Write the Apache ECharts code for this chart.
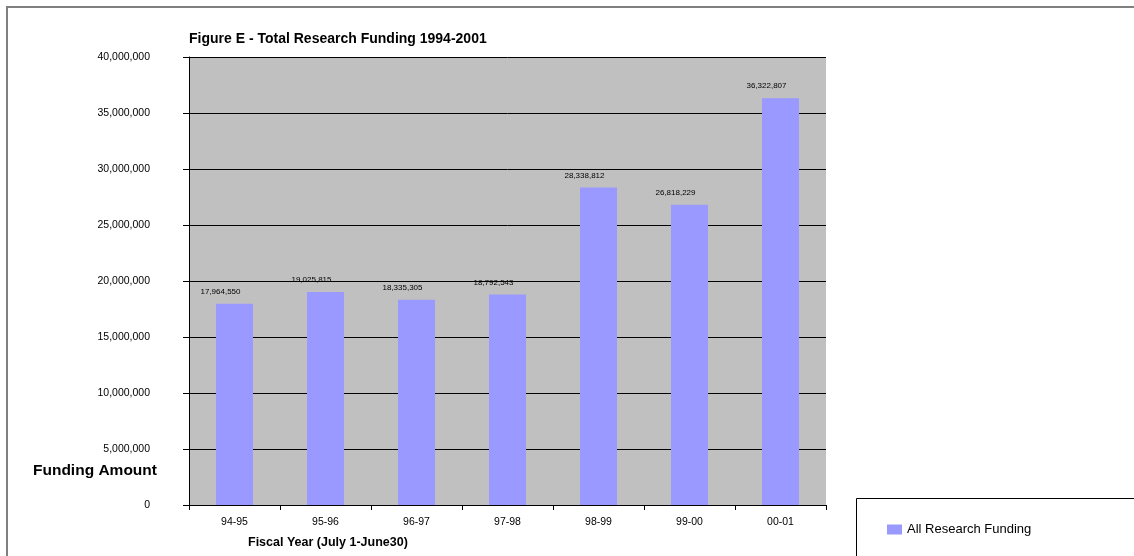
<!DOCTYPE html>
<html>
<head>
<meta charset="utf-8">
<script src="https://cdn.jsdelivr.net/npm/echarts@6/dist/echarts.min.js"></script>
<style>
  html, body { margin: 0; padding: 0; background: #fff; }
  #chart { width: 1134px; height: 556px; }
</style>
</head>
<body>
<div id="chart"></div>
<script>
// Fiscal years and total research funding per year
const categories = ['94-95', '95-96', '96-97', '97-98', '98-99', '99-00', '00-01'];
const funding = [17964550, 19025815, 18335305, 18792543, 28338812, 26818229, 36322807];
const seriesName = 'All Research Funding';

const FONT = '"Liberation Sans", Arial, sans-serif';
const fmt = v => Number(v).toLocaleString('en-US');

const chart = echarts.init(document.getElementById('chart'));
chart.setOption({
  backgroundColor: '#ffffff',
  animation: false,
  textStyle: { fontFamily: FONT },
  title: {
    text: 'Figure E - Total Research Funding 1994-2001',
    left: 184, top: 27,
    textStyle: { fontFamily: FONT, fontSize: 14, fontWeight: 'bold', color: '#000' }
  },
  legend: {
    left: 882, top: 518,
    itemWidth: 15, itemHeight: 10, itemGap: 6,
    icon: 'rect',
    textStyle: { fontFamily: FONT, fontSize: 13, color: '#000' },
    data: [seriesName]
  },
  grid: { left: 189, right: 308, top: 57, bottom: 51, show: true, backgroundColor: '#C0C0C0', borderWidth: 0 },
  xAxis: {
    type: 'category',
    data: categories,
    axisLine: { lineStyle: { color: '#000', width: 1 } },
    axisTick: { show: true, length: 5, lineStyle: { color: '#000' } },
    axisLabel: { fontFamily: FONT, fontSize: 10.5, color: '#000', margin: 12 }
  },
  yAxis: {
    type: 'value',
    min: 0, max: 40000000, interval: 5000000,
    axisLine: { show: true, lineStyle: { color: '#000', width: 1 } },
    axisTick: { show: true, length: 6, lineStyle: { color: '#000' } },
    axisLabel: { fontFamily: FONT, fontSize: 10.5, color: '#000', margin: 39, formatter: v => fmt(v) },
    splitLine: { show: true, lineStyle: { color: '#000', width: 1 } }
  },
  series: [{
    name: seriesName,
    type: 'bar',
    data: funding,
    barWidth: 37,
    itemStyle: { color: '#9999FF' },
    label: {
      show: true, position: 'top', distance: 8, offset: [-14, 0],
      fontFamily: FONT, fontSize: 8, color: '#000',
      formatter: p => fmt(p.value)
    }
  }],
  graphic: [
    { type: 'rect', shape: { x: 7, y: 7, width: 1140, height: 560 },
      style: { fill: 'none', stroke: '#808080', lineWidth: 2 }, silent: true, z: 100 },
    { type: 'rect', shape: { x: 856.5, y: 498.5, width: 290, height: 70 },
      style: { fill: 'none', stroke: '#000', lineWidth: 1 }, silent: true, z: 100 },
    { type: 'text', left: 33, top: 463,
      style: { text: 'Funding Amount', font: 'bold 15.5px ' + FONT, fill: '#000' } },
    { type: 'text', left: 248, top: 536,
      style: { text: 'Fiscal Year (July 1-June30)', font: 'bold 12.5px ' + FONT, fill: '#000' } }
  ]
});
</script>
</body>
</html>
